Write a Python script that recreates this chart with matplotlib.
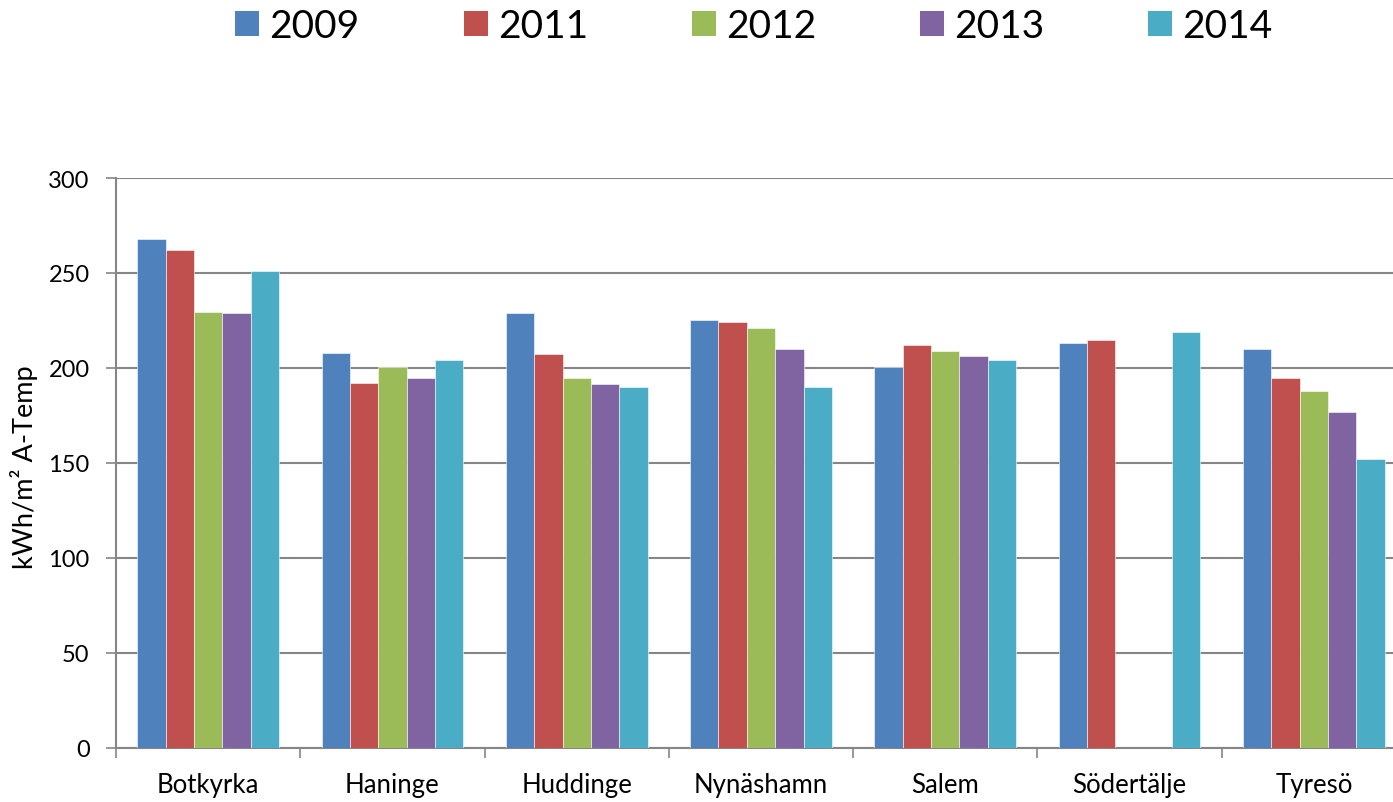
import matplotlib
matplotlib.use("Agg")
import matplotlib.pyplot as plt
from matplotlib.patches import Patch
import numpy as np

# ---------------- data (kWh/m2 A-Temp per municipality and year) -----------
MUNICIPALITIES = ["Botkyrka", "Haninge", "Huddinge", "Nynäshamn",
                  "Salem", "Södertälje", "Tyresö"]
YEARS = ["2009", "2011", "2012", "2013", "2014"]
NAN = np.nan
VALUES_2009 = [268, 208, 229, 225.5, 200.5, 213, 210]
VALUES_2011 = [262, 192, 207.5, 224, 212, 215, 195]
VALUES_2012 = [229.5, 200.5, 195, 221, 209, NAN, 188]
VALUES_2013 = [229, 195, 191.5, 210, 206.5, NAN, 177]
VALUES_2014 = [251, 204, 190, 190, 204, 219, 152]
SERIES = [VALUES_2009, VALUES_2011, VALUES_2012, VALUES_2013, VALUES_2014]
COLORS = ["#4F81BD", "#C0504D", "#9BBB59", "#8064A2", "#4BACC6"]

FONT = ["Lato", "DejaVu Sans"]
plt.rcParams["font.family"] = FONT

W, H = 1393, 803
fig = plt.figure(figsize=(W / 100, H / 100), dpi=100)
ax = fig.add_axes([116 / W, (H - 749) / H, 1290 / W, 570 / H])

x = np.arange(len(MUNICIPALITIES))
bar_w = 1 / 6.5
for i, (vals, col) in enumerate(zip(SERIES, COLORS)):
    ax.bar(x + (i - 2) * bar_w, vals, bar_w, color=col,
           edgecolor="white", linewidth=0.4, zorder=3)

ax.set_xlim(-0.5, len(MUNICIPALITIES) - 0.5)
ax.set_ylim(0, 300)
ax.set_yticks(np.arange(0, 301, 50))
ax.grid(True, axis="y", color="#868686", lw=1.5, zorder=0)

# category boundaries as major ticks, names on minor ticks
ax.set_xticks(np.arange(-0.5, len(MUNICIPALITIES), 1))
ax.set_xticklabels([])
ax.set_xticks(x, minor=True)
ax.set_xticklabels(MUNICIPALITIES, minor=True, fontsize=18.5)
ax.tick_params(axis="x", which="major", length=7, width=1.2, color="#868686")
ax.tick_params(axis="x", which="minor", length=0, pad=17)
ax.tick_params(axis="y", length=7, width=1.2, color="#868686",
               labelsize=17, pad=12)

for side in ["top", "right"]:
    ax.spines[side].set_visible(False)
for side in ["left", "bottom"]:
    ax.spines[side].set_color("#868686")
    ax.spines[side].set_linewidth(1.5)

ax.set_ylabel("kWh/m² A-Temp", fontsize=19.5)
ax.yaxis.set_label_coords(-0.0605, 0.495)

handles = [Patch(facecolor=c, edgecolor="none") for c in COLORS]
fig.legend(handles, YEARS, loc="center", ncol=5, frameon=False,
           bbox_to_anchor=(754 / W, 0.966), fontsize=28,
           handlelength=0.62, handleheight=0.62, handletextpad=0.26,
           columnspacing=2.67)

fig.savefig("out.png", dpi=100)
